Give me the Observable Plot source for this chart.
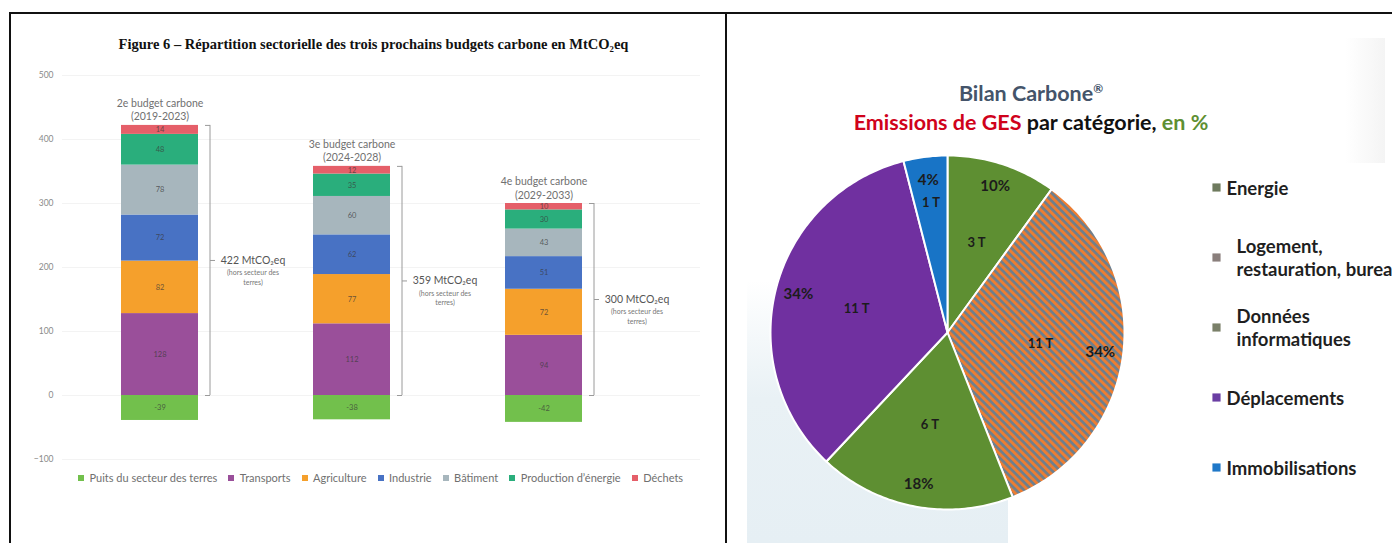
<!DOCTYPE html>
<html>
<head>
<meta charset="utf-8">
<script src="https://cdn.jsdelivr.net/npm/d3@7"></script>
<script src="https://cdn.jsdelivr.net/npm/@observablehq/plot@0.6"></script>
<style>
  html, body { margin: 0; padding: 0; background: #fff; overflow: hidden; }
  body { width: 1392px; height: 543px; position: relative; font-family: Lato, "Noto Sans", sans-serif; }
  svg { max-width: none !important; }
  .abs { position: absolute; }
  #frameTop { left: 9px; top: 12px; width: 1383px; height: 2px; background: #111; }
  #frameLeft { left: 9px; top: 12px; width: 2px; height: 531px; background: #111; }
  #frameMid { left: 725px; top: 12px; width: 2px; height: 531px; background: #111; }
  #figTitle { left: 10px; top: 36px; width: 727px; text-align: center; font-family: "Liberation Serif", "DejaVu Serif", serif; font-weight: bold; font-size: 14.5px; color: #111; white-space: nowrap; }
  #bg1 { left: 747px; top: 280px; width: 261px; height: 263px; background: linear-gradient(to bottom, rgba(232,240,245,0) 0%, #e9f1f5 45%, #e6eff4 100%); }
  #bg2 { left: 1345px; top: 38px; width: 40px; height: 125px; background: linear-gradient(to right, rgba(244,244,244,0), #f4f4f4); }
  #pieTitle { left: 780px; top: 74px; width: 502px; text-align: center; font-weight: bold; white-space: nowrap; }
  #pieTitle .l1 { font-size: 21.5px; color: #44546a; line-height: 29px; }
  #pieTitle .l1 sup { font-size: 12px; }
  #pieTitle .l2 { font-size: 21.5px; color: #111; line-height: 29px; }
  #pieTitle .red { color: #d0021b; }
  #pieTitle .green { color: #5e8f32; }
</style>
</head>
<body>
<svg width="0" height="0" style="position:absolute">
  <defs>
    <pattern id="hatch" patternUnits="userSpaceOnUse" width="5.6" height="5.6" patternTransform="rotate(-45)">
      <rect x="0" y="0" width="5.6" height="5.6" fill="#6b7f90"></rect>
      <rect x="0" y="0" width="2.9" height="5.6" fill="#ed7d31"></rect>
    </pattern>
  </defs>
</svg>
<div id="bg1" class="abs"></div>
<div id="bg2" class="abs"></div>
<div id="frameTop" class="abs"></div>
<div id="frameLeft" class="abs"></div>
<div id="frameMid" class="abs"></div>
<div id="figTitle" class="abs">Figure 6 – Répartition sectorielle des trois prochains budgets carbone en MtCO₂eq</div>
<div id="bars" class="abs" style="left:0;top:60px;width:727px"></div>
<div id="barLegend" class="abs" style="left:78px;top:461px;width:640px"></div>
<div id="pieTitle" class="abs"><div class="l1">Bilan Carbone<sup>®</sup></div><div class="l2"><span class="red">Emissions de GES</span> par catégorie, <span class="green">en %</span></div></div>
<div id="pie" class="abs" style="left:760px;top:145px;width:374px"></div>
<div id="pieLegend" class="abs" style="left:1200px;top:150px;width:240px"></div>
<script>
// ---------- Left chart data ----------
const budgetNames = ["2e budget carbone", "3e budget carbone", "4e budget carbone"];
const budgetPeriods = ["(2019-2023)", "(2024-2028)", "(2029-2033)"];
const budgetTotals = [422, 359, 300];
const sectors = ["Puits du secteur des terres", "Transports", "Agriculture", "Industrie", "Bâtiment", "Production d’énergie", "Déchets"];
const sectorColors = ["#72c04c", "#9a4f9a", "#f5a02c", "#4872c4", "#a7b6bd", "#2aae7c", "#e55f69"];
const puits = [-39, -38, -42];
const transports = [128, 112, 94];
const agriculture = [82, 77, 72];
const industrie = [72, 62, 51];
const batiment = [78, 60, 43];
const energie = [48, 35, 30];
const dechets = [14, 12, 10];
const yTicks = [-100, 0, 100, 200, 300, 400, 500];

// ---------- Right chart data ----------
const pieCats = ["Energie", "Logement, restauration, bureaux", "Données informatiques", "Déplacements", "Immobilisations"];
const pieLegendLabels = ["Energie", "Logement,\nrestauration, bureaux", "Données\ninformatiques", "Déplacements", "Immobilisations"];
const piePct = [10, 34, 18, 34, 4];
const pieTonnes = [3, 11, 6, 11, 1];
const pieColors = ["#5e8f32", "url(#hatch)", "#5e8f32", "#7030a0", "#1874c6"];
const pieSwatchColors = ["#6e7a5e", "#8a7f7c", "#7a8069", "#6a3ea3", "#1f78c8"];

// ---------- Left chart ----------
const series = [puits, transports, agriculture, industrie, batiment, energie, dechets];
const rows = budgetNames.flatMap((b, i) => sectors.map((s, j) => ({budget: b, sector: s, value: series[j][i]})));
const budgetInfo = budgetNames.map((b, i) => ({
  budget: b,
  period: budgetPeriods[i],
  total: budgetTotals[i],
  top: d3.sum(series, s => Math.max(0, s[i]))
}));

const bars = Plot.plot({
  width: 727, height: 420,
  marginTop: 15, marginBottom: 21, marginLeft: 62, marginRight: 27,
  style: {fontFamily: "Lato, sans-serif", fontSize: "8.5px", color: "#8a8a8a", background: "transparent"},
  x: {domain: budgetNames, paddingInner: 0.6, paddingOuter: 0.457, align: 0.335, axis: null},
  y: {domain: [-100, 500], ticks: yTicks, grid: true, tickSize: 0, tickPadding: 9, label: null},
  color: {domain: sectors, range: sectorColors},
  marks: [
    Plot.barY(rows, {x: "budget", y: "value", fill: "sector"}),
    Plot.text(rows, Plot.stackY({x: "budget", y: "value", text: d => String(d.value), fontSize: 7.5, fill: "#3a3a3a", fillOpacity: 0.75})),
    Plot.text(budgetInfo, {x: "budget", y: "top", text: d => d.budget + "\n" + d.period, lineAnchor: "bottom", dy: -5, fontSize: 10.5, lineHeight: 1.25, fill: "#707070"}),
    Plot.ruleX(budgetInfo, {x: "budget", y1: 0, y2: "top", dx: 50, stroke: "#9a9a9a", strokeWidth: 1}),
    Plot.tickY(budgetInfo, {x: "budget", y: 0, dx: 12, insetLeft: 72, stroke: "#9a9a9a"}),
    Plot.tickY(budgetInfo, {x: "budget", y: "top", dx: 12, insetLeft: 72, stroke: "#9a9a9a"}),
    Plot.tickY(budgetInfo, {x: "budget", y: d => d.top / 2, dx: 17, insetLeft: 72, stroke: "#9a9a9a"}),
    Plot.text(budgetInfo, {x: "budget", y: d => d.top / 2, text: d => d.total + " MtCO₂eq", dx: 93, fontSize: 10.5, fill: "#555"}),
    Plot.text(budgetInfo, {x: "budget", y: d => d.top / 2, text: () => "(hors secteur des\nterres)", dx: 93, dy: 8, lineAnchor: "top", fontSize: 7, lineHeight: 1.35, fill: "#777"})
  ]
});
document.getElementById("bars").appendChild(bars);

const leg = Plot.legend({
  color: {type: "ordinal", domain: sectors, range: sectorColors},
  swatchSize: 6,
  style: {fontFamily: "Lato, sans-serif", fontSize: "11px", color: "#707070", background: "transparent"}
});
document.getElementById("barLegend").appendChild(leg);

// ---------- Right chart (pie) ----------
const arcs = d3.pie().sort(null).value(d => d)(piePct);
const slicePts = arcs.flatMap((a, i) => {
  const n = Math.max(2, Math.ceil((a.endAngle - a.startAngle) / (Math.PI / 180)));
  const pts = [{cat: pieCats[i], color: pieColors[i], x: 0, y: 0}];
  for (let k = 0; k <= n; ++k) {
    const t = a.startAngle + (a.endAngle - a.startAngle) * k / n;
    pts.push({cat: pieCats[i], color: pieColors[i], x: Math.sin(t), y: Math.cos(t)});
  }
  pts.push({cat: pieCats[i], color: pieColors[i], x: 0, y: 0});
  return pts;
});
const pieLabels = arcs.map((a, i) => {
  const m = (a.startAngle + a.endAngle) / 2;
  const thin = (a.endAngle - a.startAngle) < 0.4;
  return {cat: pieCats[i], pct: piePct[i] + "%", t: pieTonnes[i] + " T", sx: Math.sin(m), sy: Math.cos(m), tr: thin ? 0.74 : 0.53};
});

const pie = Plot.plot({
  width: 374, height: 374, margin: 0,
  style: {fontFamily: "Lato, sans-serif", background: "transparent"},
  x: {domain: [-1.0565, 1.0565], axis: null},
  y: {domain: [-1.0565, 1.0565], axis: null},
  color: {type: "identity"},
  marks: [
    Plot.line(slicePts, {x: "x", y: "y", z: "cat", fill: "color", stroke: "white", strokeWidth: 2, strokeLinejoin: "round"}),
    Plot.text(pieLabels, {x: d => 0.87 * d.sx, y: d => 0.87 * d.sy, text: "pct", fontSize: 15, fontWeight: "bold", fill: "#1c1c1c"}),
    Plot.text(pieLabels, {x: d => d.tr * d.sx, y: d => d.tr * d.sy, text: "t", fontSize: 13, fontWeight: "bold", fill: "#1c1c1c"})
  ]
});
document.getElementById("pie").appendChild(pie);

const pieLeg = Plot.plot({
  width: 240, height: 340,
  marginTop: 36, marginBottom: 23, marginLeft: 0, marginRight: 0,
  style: {fontFamily: "Lato, sans-serif", background: "transparent", overflow: "visible"},
  x: {domain: [0, 1], axis: null},
  y: {type: "point", domain: pieCats, range: [36, 317], padding: 0, axis: null},
  color: {type: "identity"},
  marks: [
    Plot.dot(pieCats, {x: 0, y: d => d, symbol: "square", r: 4.6, fill: (d, i) => pieSwatchColors[i], stroke: null, dx: 16}),
    Plot.text(pieCats, {x: 0, y: d => d, text: (d, i) => pieLegendLabels[i], textAnchor: "start", dx: 26, fontSize: 18.5, fontWeight: "bold", lineHeight: 1.25, fill: "#1f1f1f",
      filter: (d, i) => !pieLegendLabels[i].includes("\n")}),
    Plot.text(pieCats, {x: 0, y: d => d, text: (d, i) => pieLegendLabels[i], textAnchor: "start", dx: 36, fontSize: 18.5, fontWeight: "bold", lineHeight: 1.25, fill: "#1f1f1f",
      filter: (d, i) => pieLegendLabels[i].includes("\n")})
  ]
});
document.getElementById("pieLegend").appendChild(pieLeg);
</script>
</body>
</html>
